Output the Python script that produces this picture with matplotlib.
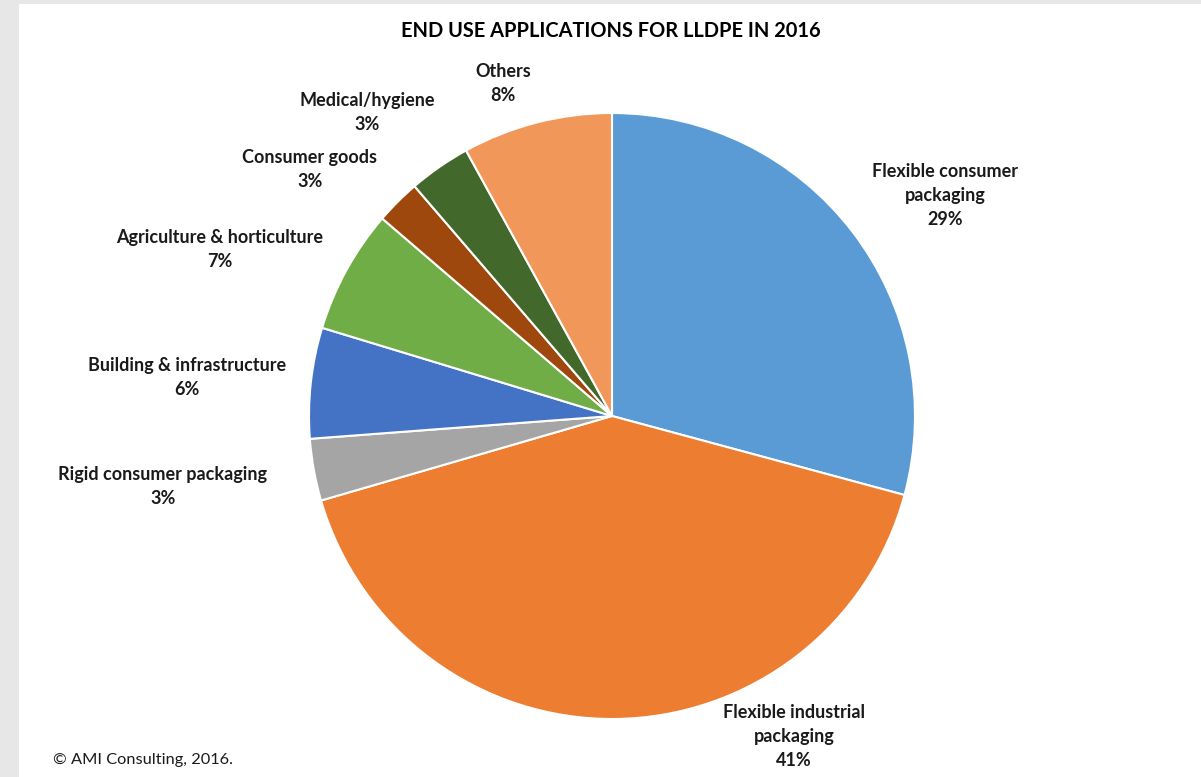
import matplotlib.pyplot as plt
from matplotlib.patches import Rectangle

# slice data, clockwise from 12 o'clock
categories = ['Flexible consumer\npackaging', 'Flexible industrial\npackaging',
              'Rigid consumer packaging', 'Building & infrastructure',
              'Agriculture & horticulture', 'Consumer goods',
              'Medical/hygiene', 'Others']
shares = [29.2, 41.3, 3.3, 5.9, 6.6, 2.4, 3.3, 8.0]
pct_labels = ['29%', '41%', '3%', '6%', '7%', '3%', '3%', '8%']
colors = ['#5B9BD5', '#ED7D31', '#A5A5A5', '#4472C4',
          '#70AD47', '#9E480E', '#43682B', '#F1975A']

# label centres in pixels (x, y of first line)
label_px = [(945, 171), (794, 712), (163, 474), (187, 365),
            (220, 237), (310, 157), (367, 100), (503, 71)]

W, H = 1201, 777
plt.rcParams['font.family'] = ['Lato', 'DejaVu Sans']

fig = plt.figure(figsize=(W / 100, H / 100), dpi=100)
fig.patch.set_facecolor('#E7E7E7')
fig.patches.append(Rectangle((19 / W, 0), 1 - 19 / W, 1 - 4 / H,
                             transform=fig.transFigure, facecolor='white',
                             edgecolor='none', zorder=-5))

cx, cy, r = 612, 416, 303
ax = fig.add_axes([(cx - r) / W, 1 - (cy + r) / H, 2 * r / W, 2 * r / H])
ax.set_zorder(2)
wedges, _ = ax.pie(shares, colors=colors, startangle=90, counterclock=False,
                   wedgeprops=dict(edgecolor='white', linewidth=1.5))
for w in wedges:
    w.set_clip_on(False)
ax.set_xlim(-1, 1)
ax.set_ylim(-1, 1)
ax.axis('off')

fig.text(611 / W, 1 - 31 / H, 'END USE APPLICATIONS FOR LLDPE IN 2016',
         ha='center', va='center', fontsize=14.4, fontweight='bold', color='#000000')

for name, pct, (px, py) in zip(categories, pct_labels, label_px):
    fig.text(px / W, 1 - (py - 8) / H, name + '\n' + pct, ha='center', va='top',
             fontsize=13, fontweight='bold', color='#1a1a1a', linespacing=1.5)

fig.text(53 / W, 1 - 760 / H, '\u00a9 AMI Consulting, 2016.', ha='left', va='center',
         fontsize=11.8, color='#1a1a1a')

fig.savefig('out.png', dpi=100)
